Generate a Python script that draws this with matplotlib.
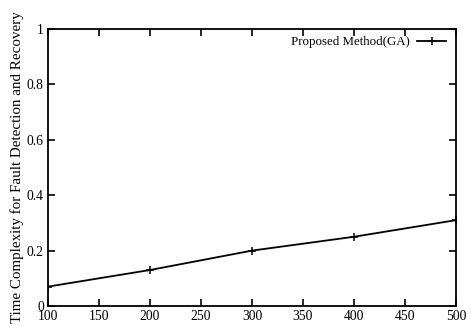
import matplotlib
matplotlib.use("Agg")
import matplotlib.pyplot as plt

x = [100, 200, 300, 400, 500]
y = [0.07, 0.13, 0.20, 0.25, 0.31]
xticks = [100, 150, 200, 250, 300, 350, 400, 450, 500]
yticks = [0, 0.2, 0.4, 0.6, 0.8, 1]
ytick_labels = ["0", "0.2", "0.4", "0.6", "0.8", "1"]

plt.rcParams['font.family'] = ['Liberation Serif', 'DejaVu Serif']
fig = plt.figure(figsize=(4.71, 3.26), dpi=100)
ax = fig.add_axes([0.1019, 0.0613, 0.8662, 0.8497])
ax.plot(x, y, color='black', lw=1.3, marker='+', ms=6, mew=1.1, label='Proposed Method(GA)')
ax.set_xlim(100, 500)
ax.set_ylim(0, 1)
ax.set_xticks(xticks)
ax.set_xticklabels([str(t) for t in xticks])
ax.set_yticks(yticks)
ax.set_yticklabels(ytick_labels)
ax.tick_params(direction='in', top=True, right=True, length=5, width=1.2, labelsize=9.8, pad=3)
for s in ax.spines.values():
    s.set_linewidth(1.3)
ax.set_ylabel('Time Complexity for Fault Detection and Recovery', fontsize=10.8, labelpad=2)
ax.legend(loc='upper right', bbox_to_anchor=(0.983, 0.985), frameon=False, markerfirst=False,
          fontsize=9.3, handlelength=2.2, borderaxespad=0.0, borderpad=0.25, handletextpad=0.6)
fig.savefig('out.png', dpi=100)
